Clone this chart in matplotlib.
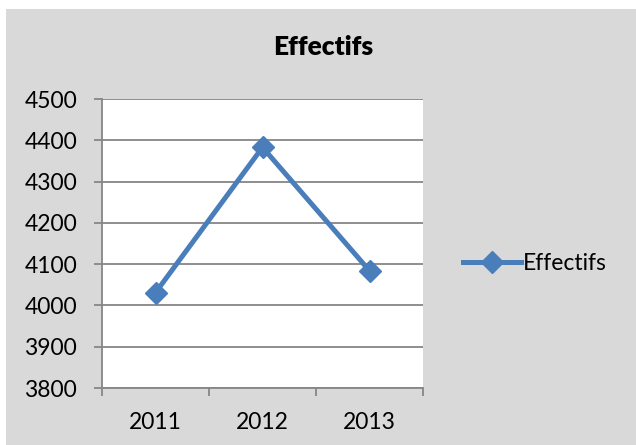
import matplotlib.pyplot as plt
from matplotlib.patches import Rectangle

years = ['2011', '2012', '2013']
effectifs = [4031, 4383, 4084]
y_ticks = [3800, 3900, 4000, 4100, 4200, 4300, 4400, 4500]

blue = '#4a7ebb'
grey = '#868686'

plt.rcParams['font.family'] = ['Lato', 'DejaVu Sans']

fig = plt.figure(figsize=(6.36, 4.45), dpi=100, facecolor='white')
# grey chart area, leaving a thin white margin at top and left
fig.patches.append(Rectangle((6 / 636, 0), 1, 1 - 9 / 445, transform=fig.transFigure,
                             facecolor='#d9d9d9', edgecolor='none', zorder=-10))

ax = fig.add_axes([102 / 636, 1 - 388 / 445, 321 / 636, 289 / 445])
ax.set_facecolor('white')

x = list(range(len(years)))
ax.plot(x, effectifs, color=blue, lw=3.6, marker='D', ms=11,
        label='Effectifs', zorder=3, clip_on=False)

ax.set_xlim(-0.5, len(years) - 0.5)
ax.set_ylim(3800, 4500)
ax.set_yticks(y_ticks)
ax.set_yticklabels([str(v) for v in y_ticks])
ax.set_xticks(x)
ax.set_xticklabels(years)
# category ticks sit between the categories
ax.set_xticks([i - 0.5 for i in range(len(years) + 1)], minor=True)
ax.tick_params(axis='x', which='major', length=0, pad=17, labelsize=16.5)
ax.tick_params(axis='x', which='minor', length=6, width=1.3, color=grey)
ax.tick_params(axis='y', length=6, width=1.3, color=grey, pad=12, labelsize=16.5)

ax.grid(axis='y', color=grey, lw=1.3)
ax.set_axisbelow(True)
for side in ['top', 'right']:
    ax.spines[side].set_visible(False)
for side in ['left', 'bottom']:
    ax.spines[side].set_color(grey)
    ax.spines[side].set_linewidth(1.3)

fig.text(323 / 636, 1 - 47 / 445, 'Effectifs', ha='center', va='center',
         fontsize=19, fontweight='heavy')

ax.legend(loc='center left', bbox_to_anchor=(1.09, 0.43), frameon=False,
          fontsize=16.5, handlelength=2.5, handletextpad=0.1, borderpad=0)

fig.savefig('out.png', dpi=100, facecolor=fig.get_facecolor())
